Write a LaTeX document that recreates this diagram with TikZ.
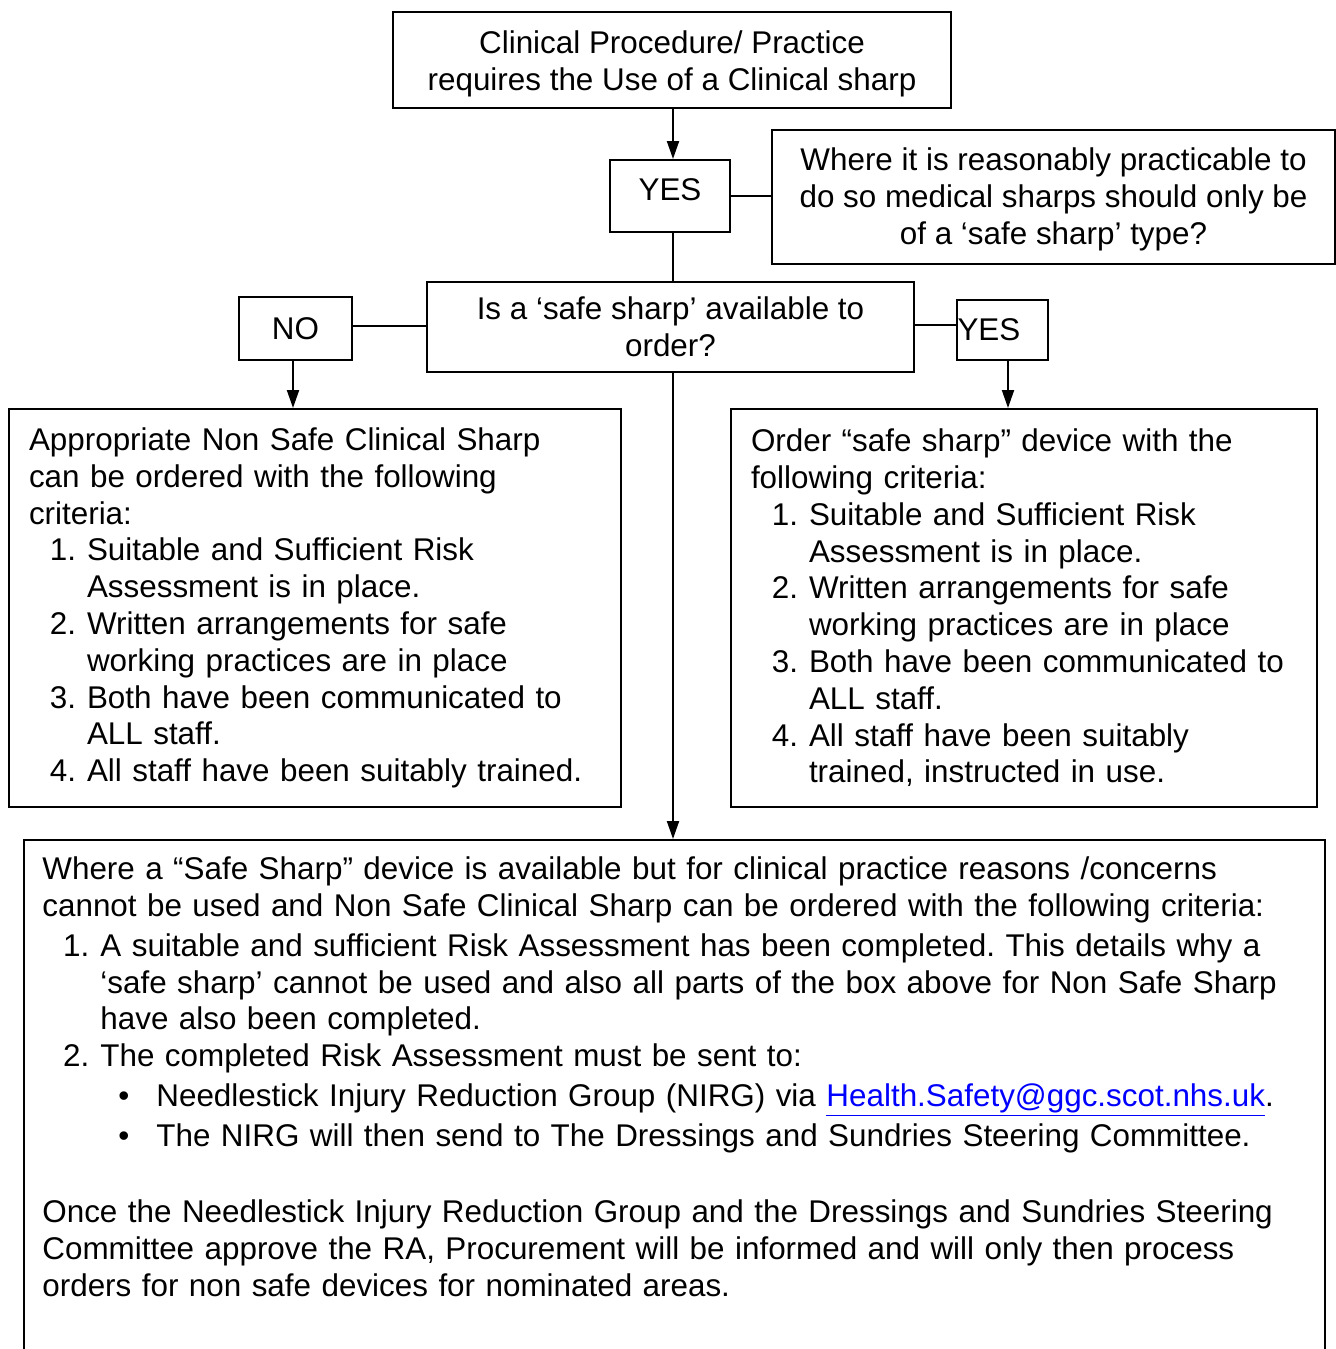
\documentclass[tikz,border=0pt]{standalone}
\usepackage{fontspec}
\setmainfont{Liberation Sans}
\usepackage{enumitem}
\usetikzlibrary{shapes,arrows,arrows.meta}
\setlist[enumerate]{leftmargin=29pt,labelsep=5.5pt,itemsep=0pt,topsep=0pt,parsep=0pt,partopsep=0pt}
\setlist[itemize]{leftmargin=28pt,labelsep=13.5pt,itemsep=1.5pt,topsep=1.5pt,parsep=0pt,partopsep=0pt,label=\textbullet}
\frenchspacing

\begin{document}
\begin{tikzpicture}[x=0.5pt,y=-0.5pt,
    font=\fontsize{15.7}{18.4}\selectfont,
    block_center/.style ={rectangle, draw=black, line width=1pt, fill=white,
      align=center, inner sep=0pt},
    block_left/.style ={rectangle, draw=black, line width=1pt, fill=white,
      anchor=north west, align=left, inner xsep=10pt, inner ysep=0pt,
      minimum height=199pt},
    block_frame/.style ={rectangle, draw=black, line width=1pt, fill=white,
      anchor=north west, inner sep=0pt},
    block_noborder/.style ={rectangle, draw=none, anchor=north west,
      align=left, inner sep=0pt},
    line/.style ={draw, line width=1pt, -{Triangle[length=9pt,width=6pt]}, shorten >=0pt},
    link/.style ={draw, line width=1pt}]
    \useasboundingbox (0,0) rectangle (1336,1349);
    % top of the chart
    \node [block_center, minimum width=279pt, minimum height=48pt] (clinical_procedure) at (672,60) {};
    \node [align=center, inner sep=0pt] (clinical_text) at (672,64)
      {Clinical Procedure/ Practice\\requires the Use of a Clinical sharp};
    \node [block_center, minimum width=60pt, minimum height=36pt, text depth=6pt] (yes_top) at (670,196) {YES};
    \node [block_center, minimum width=281.5pt, minimum height=67pt] (safe_type) at (1053.5,197) {};
    \node [align=center, inner sep=0pt] (safe_type_text) at (1053.5,199.5)
      {Where it is reasonably practicable to\\do so medical sharps should only be\\of a ‘safe sharp’ type?};
    \node [block_center, minimum width=243.5pt, minimum height=45pt] (available) at (670.5,327)
      {Is a ‘safe sharp’ available to\\order?};
    \node [block_center, minimum width=56.5pt, minimum height=31.5pt] (no_branch) at (295.5,328.5) {NO};
    \node [block_center, minimum width=45.5pt, minimum height=30pt, text width=45pt,
      align=left, inner xsep=0.25pt] (yes_branch) at (1002.5,330) {YES};
    % the two outcome boxes
    \node [block_left, text width=286pt] (non_safe) at (8,408)
      {Appropriate Non Safe Clinical Sharp\\can be ordered with the following\\criteria:
      \begin{enumerate}
        \item Suitable and Sufficient Risk\\Assessment is in place.
        \item Written arrangements for safe\\working practices are in place
        \item Both have been communicated to\\ALL staff.
        \item All staff have been suitably trained.
      \end{enumerate}};
    \node [block_left, text width=273pt] (safe_order) at (730,408)
      {Order “safe sharp” device with the\\following criteria:
      \begin{enumerate}
        \item Suitable and Sufficient Risk\\Assessment is in place.
        \item Written arrangements for safe\\working practices are in place
        \item Both have been communicated to\\ALL staff.
        \item All staff have been suitably\\trained, instructed in use.
      \end{enumerate}};
    % the exception box (runs past the bottom edge)
    \node [block_frame, minimum width=650.5pt, minimum height=280pt] (exception_box) at (23,839) {};
    \node [block_noborder, text width=630.5pt] (exception_text) at (42,856.5)
      {Where a “Safe Sharp” device is available but for clinical practice reasons /concerns\\cannot be used and Non Safe Clinical Sharp can be ordered with the following criteria:
      \begin{enumerate}[topsep=1.5pt]
        \item A suitable and sufficient Risk Assessment has been completed. This details why a\\‘safe sharp’ cannot be used and also all parts of the box above for Non Safe Sharp\\have also been completed.
        \item The completed Risk Assessment must be sent to:
        \begin{itemize}
          \item Needlestick Injury Reduction Group (NIRG) via \textcolor{blue}{\underline{Health.Safety@ggc.scot.nhs.uk}}.
          \item The NIRG will then send to The Dressings and Sundries Steering Committee.
        \end{itemize}
      \end{enumerate}
      \vspace{18.4pt}
      \noindent Once the Needlestick Injury Reduction Group and the Dressings and Sundries Steering\\Committee approve the RA, Procurement will be informed and will only then process\\orders for non safe devices for nominated areas.};
    % connecting nodes with paths
    \begin{scope}[every path/.style=line]
      \path ([xshift=0.5pt]clinical_procedure.south) -- ([xshift=0.5pt]clinical_procedure.south |- yes_top.north);
      \path ([xshift=-1.25pt]no_branch.south) -- ([xshift=-1.25pt]no_branch.south |- non_safe.north);
      \path ([xshift=2.75pt]yes_branch.south) -- ([xshift=2.75pt]yes_branch.south |- safe_order.north);
      \path ([xshift=1.25pt]available.south) -- ([xshift=1.25pt]available.south |- exception_box.north);
    \end{scope}
    \begin{scope}[every path/.style=link]
      \path (yes_top.east) -- (yes_top.east -| safe_type.west);
      \path ([xshift=1.5pt]yes_top.south) -- ([xshift=1.5pt]yes_top.south |- available.north);
      \path ([yshift=1.5pt]no_branch.east) -- ([yshift=1.5pt]no_branch.east -| available.west);
      \path ([yshift=2.5pt]available.east |- yes_branch.west) -- ([yshift=2.5pt]yes_branch.west);
    \end{scope}
  \end{tikzpicture}
\end{document}
